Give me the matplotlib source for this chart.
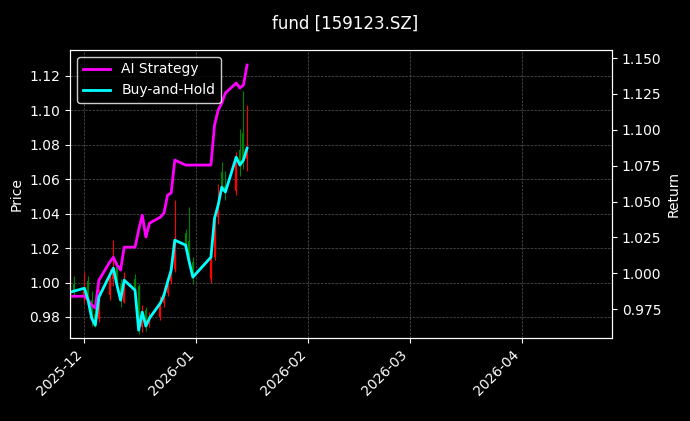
import matplotlib
matplotlib.use("Agg")
import matplotlib.pyplot as plt
import matplotlib.dates as mdates
import pandas as pd

dates = ["2025-11-27","2025-11-28","2025-12-01","2025-12-02","2025-12-03","2025-12-04","2025-12-05",
         "2025-12-08","2025-12-09","2025-12-10","2025-12-11","2025-12-12","2025-12-15","2025-12-16",
         "2025-12-17","2025-12-18","2025-12-19","2025-12-22","2025-12-23","2025-12-24","2025-12-25",
         "2025-12-26","2025-12-29","2025-12-30","2025-12-31","2026-01-05","2026-01-06","2026-01-07",
         "2026-01-08","2026-01-09","2026-01-12","2026-01-13","2026-01-14","2026-01-15"]
close = [0.9945,0.9951,0.9969,0.9899,0.9794,0.9754,0.9916,1.0044,1.0085,0.9986,0.9899,1.0015,0.9957,0.9724,
         0.9829,0.9748,0.9794,0.9881,0.9928,1.0003,1.0073,1.0247,1.0218,1.0120,1.0032,1.0149,1.0375,1.0451,
         1.0555,1.0526,1.0730,1.0683,1.0712,1.0782]
open_ = [0.9880,0.9990,0.9930,1.0010,0.9900,0.9820,0.9790,0.9930,1.0020,1.0090,0.9990,0.9890,1.0020,0.9980,
         0.9740,0.9840,0.9760,0.9800,0.9880,0.9940,1.0010,1.0080,1.0290,1.0240,1.0120,1.0020,1.0150,1.0380,
         1.0640,1.0560,1.0530,1.0770,1.0870,1.0720]
high = [1.0080,1.0040,1.0060,1.0040,0.9950,0.9870,0.9960,1.0080,1.0250,1.0120,1.0020,1.0060,1.0050,0.9990,
        0.9870,0.9860,0.9830,0.9920,0.9970,1.0040,1.0120,1.0480,1.0310,1.0440,1.0150,1.0220,1.0420,1.0570,
        1.0700,1.0650,1.0760,1.0890,1.1110,1.1030]
low = [0.9800,0.9920,0.9880,0.9870,0.9750,0.9740,0.9770,0.9900,0.9980,0.9960,0.9860,0.9880,0.9930,0.9700,
       0.9710,0.9720,0.9740,0.9780,0.9860,0.9920,0.9990,1.0060,1.0190,1.0100,0.9990,1.0000,1.0130,1.0340,
       1.0530,1.0480,1.0510,1.0620,1.0660,1.0650]
strategy = [0.9840,0.9840,0.9840,0.9813,0.9778,0.9757,0.9952,1.0078,1.0112,1.0057,1.0022,1.0182,1.0182,1.0301,
            1.0405,1.0252,1.0349,1.0391,1.0419,1.0545,1.0559,1.0789,1.0754,1.0754,1.0754,1.0754,1.1033,1.1137,
            1.1186,1.1256,1.1326,1.1291,1.1312,1.1451]
buyhold = [0.9868,0.9875,0.9896,0.9813,0.9687,0.9638,0.9834,0.9987,1.0036,0.9917,0.9813,0.9952,0.9882,0.9604,
           0.9729,0.9632,0.9687,0.9792,0.9848,0.9938,1.0022,1.0231,1.0196,1.0078,0.9973,1.0112,1.0384,1.0475,
           1.0600,1.0566,1.0809,1.0754,1.0789,1.0872]

d = pd.to_datetime(dates)
fig = plt.figure(figsize=(6.9, 4.21), dpi=100, facecolor="black")
ax = fig.add_axes([70/690, 1-338/421, 542/690, 288/421], facecolor="black")
for i in range(len(d)):
    c = "red" if close[i] >= open_[i] else "green"
    ax.vlines(d[i], low[i], high[i], color=c, linewidth=0.8)
    ax.vlines(d[i], min(open_[i], close[i]), max(open_[i], close[i]), color=c, linewidth=1.6)
ax.set_ylim(0.9678, 1.1351)
ax.set_xlim(pd.Timestamp("2025-11-27"), pd.Timestamp("2026-04-26"))
ax.set_ylabel("Price", color="white")
ax.grid(True, color="#555555", linestyle="--", linewidth=0.5)
ax2 = ax.twinx()
l1, = ax2.plot(d, strategy, color="#ff00ff", linewidth=2, label="AI Strategy")
l2, = ax2.plot(d, buyhold, color="#00ffff", linewidth=2, label="Buy-and-Hold")
ax2.set_ylim(0.9549, 1.1556)
ax2.set_ylabel("Return", color="white")
ax.xaxis.set_major_locator(mdates.MonthLocator())
ax.xaxis.set_major_formatter(mdates.DateFormatter("%Y-%m"))
for a in (ax, ax2):
    a.tick_params(colors="white")
    for s in a.spines.values():
        s.set_color("white")
plt.setp(ax.get_xticklabels(), rotation=45, ha="right")
leg = ax2.legend(handles=[l1, l2], loc="upper left", facecolor="black", edgecolor="white", labelcolor="white")
fig.suptitle("fund [159123.SZ]", color="white", y=0.965)
fig.savefig("out.png", dpi=100, facecolor="black")
